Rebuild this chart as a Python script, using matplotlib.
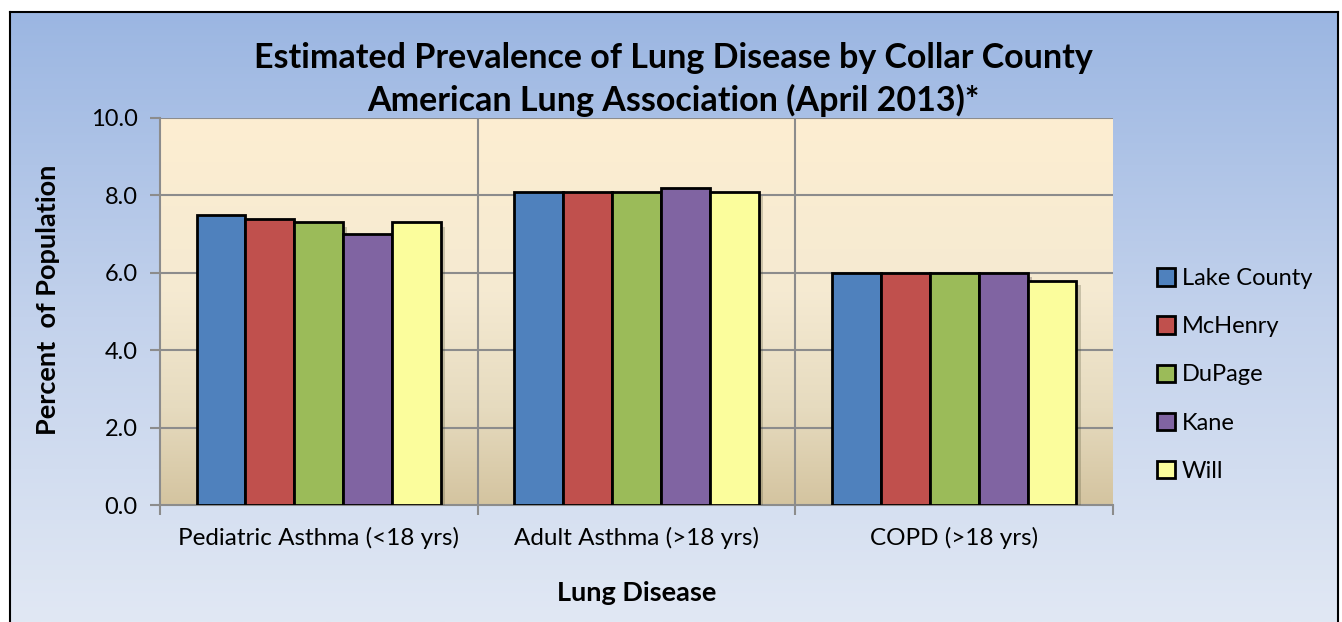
import numpy as np
import matplotlib
matplotlib.use("Agg")
import matplotlib.pyplot as plt
from matplotlib import patheffects
from matplotlib.colors import LinearSegmentedColormap
from matplotlib.patches import Patch

# data
categories = ["Pediatric Asthma (<18 yrs)", "Adult Asthma (>18 yrs)", "COPD (>18 yrs)"]
counties = ["Lake County", "McHenry", "DuPage", "Kane", "Will"]
lake = [7.5, 8.1, 6.0]
mchenry = [7.4, 8.1, 6.0]
dupage = [7.3, 8.1, 6.0]
kane = [7.0, 8.2, 6.0]
will = [7.3, 8.1, 5.8]
series = [lake, mchenry, dupage, kane, will]
colors = ["#4f81bd", "#c0504d", "#9bbb59", "#8064a2", "#fbfd9c"]
yticks = [0, 2, 4, 6, 8, 10]

plt.rcParams['font.family'] = ['Lato', 'DejaVu Sans']

W, H = 1342, 622
fig = plt.figure(figsize=(W / 100, H / 100), dpi=100)
fig.patch.set_facecolor("white")

# outer chart area with blue gradient
bg = fig.add_axes([10 / W, 0, 1328 / W, 610 / H])
bg_cmap = LinearSegmentedColormap.from_list("bg", ["#9bb6e2", "#c3d2ec", "#e1e8f4"])
bg.imshow(np.linspace(0, 1, 256).reshape(-1, 1), cmap=bg_cmap, aspect="auto",
          extent=[0, 1, 0, 1])
bg.set_xticks([])
bg.set_yticks([])
for s in bg.spines.values():
    s.set_color("black")
    s.set_linewidth(1.5)
bg.spines["bottom"].set_visible(False)

# plot area
ax = fig.add_axes([160 / W, (H - 505) / H, 953 / W, 387 / H])
ax.set_xlim(0, 3)
ax.set_ylim(0, 10)
pa_cmap = LinearSegmentedColormap.from_list(
    "pa", [(0, "#fdeed1"), (0.45, "#f5ead2"), (0.75, "#e6dbbf"), (1, "#d4c4a0")])
ax.imshow(np.linspace(0, 1, 256).reshape(-1, 1), cmap=pa_cmap, aspect="auto",
          extent=[0, 3, 0, 10], zorder=0)

grid_c = "#8c8c8c"
for y in yticks[1:]:
    ax.axhline(y, color=grid_c, lw=1.5, zorder=1)
for x in [1, 2]:
    ax.axvline(x, color=grid_c, lw=1.5, zorder=1)

x = np.arange(len(categories)) + 0.5
bw = 0.154
shadow = [patheffects.SimplePatchShadow(offset=(3, -3), alpha=0.25), patheffects.Normal()]
for i, (vals, c) in enumerate(zip(series, colors)):
    bars = ax.bar(x + (i - 2) * bw, vals, bw, color=c, edgecolor="black",
                  linewidth=2, zorder=3, label=counties[i])
    for b in bars:
        b.set_path_effects(shadow)

ax.set_yticks(yticks)
ax.set_yticklabels([f"{v:.1f}" for v in yticks], fontsize=17)
ax.set_xticks([0, 1, 2, 3])
ax.set_xticklabels([])
ax.set_xticks(x, minor=True)
ax.set_xticklabels(categories, minor=True, fontsize=17.5)
ax.tick_params(axis="x", which="minor", length=0, pad=16)
ax.tick_params(axis="x", which="major", length=7, color=grid_c, width=1.5)
ax.tick_params(axis="y", length=7, color=grid_c, width=1.5, pad=9)
for s in ["top", "right"]:
    ax.spines[s].set_visible(False)
for s in ["left", "bottom"]:
    ax.spines[s].set_color(grid_c)
    ax.spines[s].set_linewidth(1.5)

fig.text(673 / W, 1 - 58 / H, "Estimated Prevalence of Lung Disease by Collar County",
         ha="center", va="center", fontsize=24.5, fontweight="bold")
fig.text(673 / W, 1 - 100 / H, "American Lung Association (April 2013)*",
         ha="center", va="center", fontsize=24.5, fontweight="bold")
fig.text(48 / W, 1 - 300 / H, "Percent  of Population", rotation=90,
         ha="center", va="center", fontsize=19.5, fontweight="bold")
fig.text(637 / W, 1 - 593 / H, "Lung Disease", ha="center", va="center",
         fontsize=19.5, fontweight="bold")

handles = [Patch(facecolor=c, edgecolor="black", linewidth=2) for c in colors]
fig.legend(handles, counties, loc="center left", bbox_to_anchor=(1136 / W, 1 - 375 / H),
           frameon=False, fontsize=17, handlelength=0.75, handleheight=0.75,
           handletextpad=0.3, labelspacing=1.15)

fig.savefig("out.png", dpi=100)
